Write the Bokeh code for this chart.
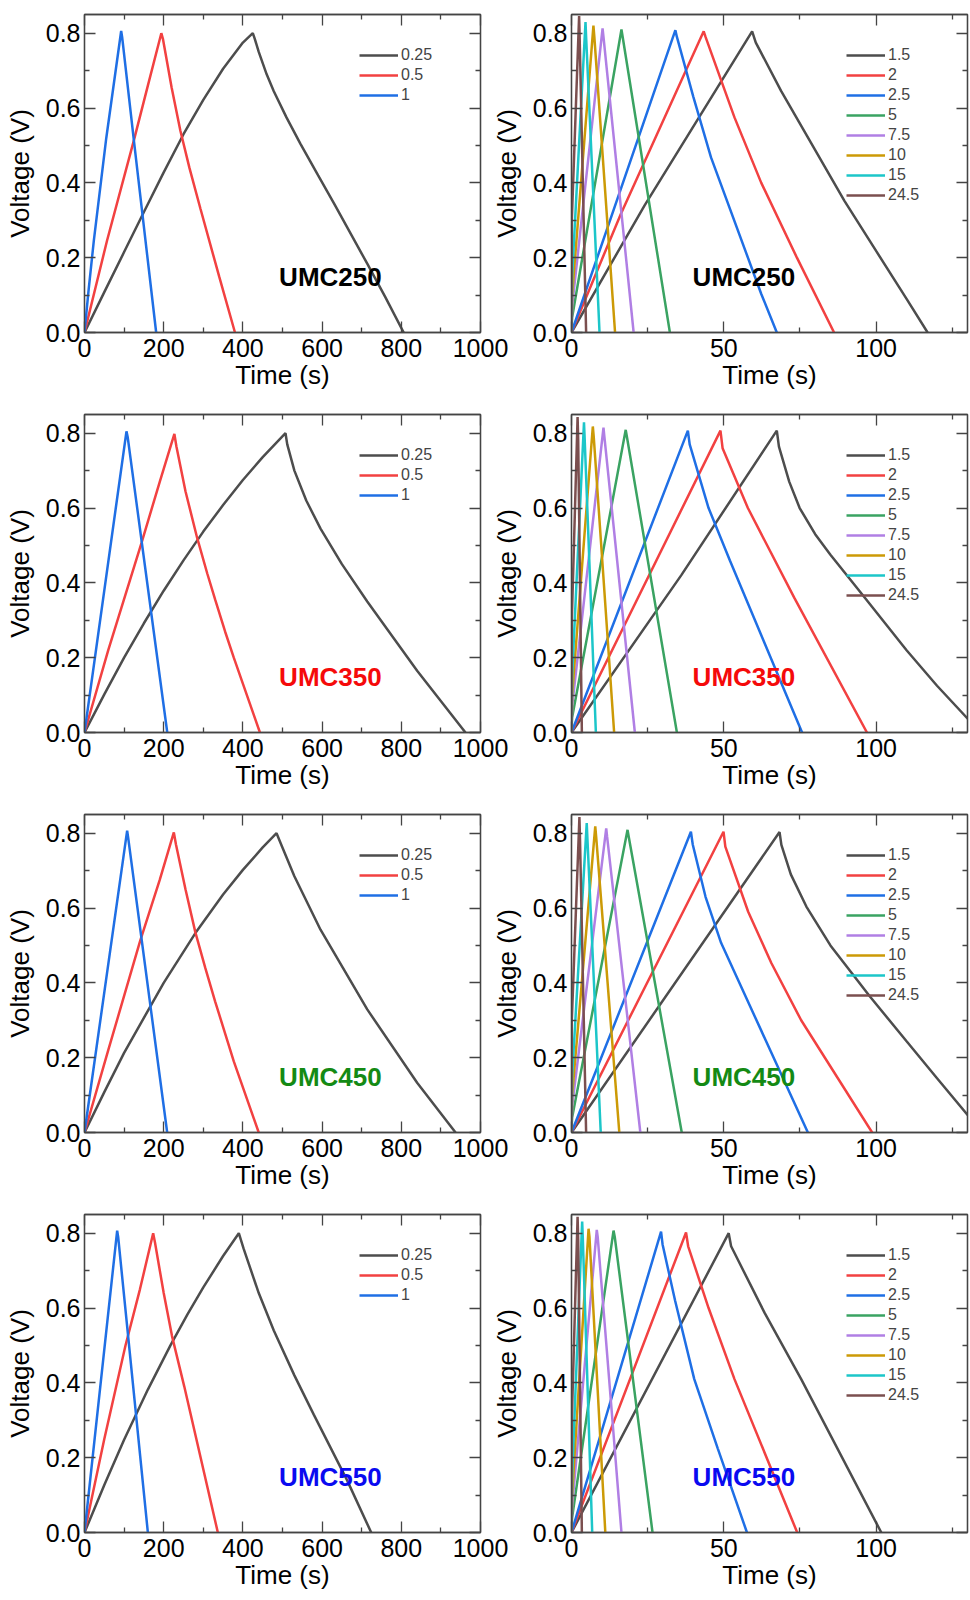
from bokeh.plotting import figure
from bokeh.models import (Range1d, FixedTicker, LinearAxis, Legend, LegendItem,
                          Label, PrintfTickFormatter)
from bokeh.layouts import gridplot
from bokeh.embed import file_html
from bokeh.resources import INLINE

# ---------------- data ----------------
SAMPLES = ["UMC250", "UMC350", "UMC450", "UMC550"]
SAMPLE_COLORS = ["#000000", "#f50a0a", "#148a14", "#0a0af0"]

RATES_LOW = ["0.25", "0.5", "1"]
RATES_HIGH = ["1.5", "2", "2.5", "5", "7.5", "10", "15", "24.5"]
COLORS_LOW = ["#4d4d4d", "#f24141", "#1f6fe5"]
COLORS_HIGH = ["#4d4d4d", "#f24141", "#1f6fe5", "#3aa362", "#b07fe4",
               "#cc9a06", "#1cc6c9", "#7b4f4f"]

X_TICKS_LOW = [0, 200, 400, 600, 800, 1000]
X_MINOR_LOW = [100, 300, 500, 700, 900]
X_TICKS_HIGH = [0, 50, 100]
X_MINOR_HIGH = [25, 75, 125]
Y_TICKS = [0.0, 0.2, 0.4, 0.6, 0.8]
Y_MINOR = [0.1, 0.3, 0.5, 0.7]

# ---- UMC250, low current densities (A/g) ----
UMC250_LOW_T = [
    [0, 50, 100, 150, 200, 250, 300, 350, 400, 425,
     430, 440, 460, 478, 510, 545, 590, 630, 714, 760, 806],
    [0, 57, 125, 160, 194, 198, 220, 242, 265, 293, 340, 380],
    [0, 10, 23.5, 55, 92.6, 95, 124.6, 181],
]
UMC250_LOW_V = [
    [0, 0.108, 0.215, 0.322, 0.428, 0.53, 0.622, 0.705, 0.775, 0.80,
     0.785, 0.75, 0.69, 0.645, 0.575, 0.505, 0.42, 0.345, 0.184, 0.094, 0],
    [0, 0.246, 0.515, 0.66, 0.80, 0.785, 0.655, 0.54, 0.44, 0.33, 0.15, 0],
    [0, 0.11, 0.245, 0.52, 0.806, 0.79, 0.514, 0],
]
# ---- UMC350 ----
UMC350_LOW_T = [
    [0, 50, 100, 150, 200, 250, 300, 350, 400, 450, 507.6,
     512, 530, 560, 596, 650, 714, 840, 962],
    [0, 60, 144, 190, 227, 232, 255, 284.5, 310, 330, 355, 377, 443],
    [0, 106, 109, 209],
]
UMC350_LOW_V = [
    [0, 0.102, 0.20, 0.292, 0.379, 0.46, 0.537, 0.608, 0.675, 0.736, 0.80,
     0.77, 0.70, 0.62, 0.545, 0.45, 0.35, 0.165, 0],
    [0, 0.22, 0.507, 0.67, 0.798, 0.765, 0.645, 0.52, 0.425, 0.355, 0.27, 0.20, 0],
    [0, 0.805, 0.79, 0],
]
# ---- UMC450 ----
UMC450_LOW_T = [
    [0, 50, 100, 200, 280, 350, 400, 450, 485, 499, 530, 596, 714, 840, 937],
    [0, 60, 140, 190, 225.6, 231, 255, 280, 305, 330, 355, 377, 440],
    [0, 107.7, 110, 208.8],
]
UMC450_LOW_V = [
    [0, 0.108, 0.213, 0.40, 0.533, 0.636, 0.702, 0.762, 0.80, 0.764, 0.685,
     0.542, 0.329, 0.133, 0],
    [0, 0.22, 0.51, 0.675, 0.802, 0.77, 0.65, 0.535, 0.44, 0.35, 0.265, 0.19, 0],
    [0, 0.807, 0.79, 0],
]
# ---- UMC550 ----
UMC550_LOW_T = [
    [0, 50, 100, 160, 217, 260, 300, 350, 389.7,
     402, 440, 478, 530, 579, 663, 724],
    [0, 50, 103.5, 140, 173.4, 178, 200, 221, 252, 336.7],
    [0, 82.5, 85, 160],
]
UMC550_LOW_V = [
    [0, 0.127, 0.248, 0.382, 0.50, 0.583, 0.655, 0.739, 0.80,
     0.758, 0.64, 0.54, 0.42, 0.315, 0.14, 0],
    [0, 0.25, 0.50, 0.65, 0.80, 0.775, 0.64, 0.525, 0.39, 0],
    [0, 0.807, 0.79, 0],
]

# ---- high current densities ----
UMC250_HIGH_T = [
    [0, 24, 59.3, 60.5, 68.8, 89.6, 100, 110, 116.9],
    [0, 16.2, 43.4, 44, 53.5, 62.3, 74, 86.2],
    [0, 34.1, 34.6, 40, 45.8, 62.3, 67.4],
    [0, 0.2, 16.4, 16.8, 32.3],
    [0, 0.2, 10.2, 10.5, 20.4],
    [0, 0.2, 7.2, 7.5, 14.3],
    [0, 0.2, 4.6, 4.8, 9.2],
    [0, 0.1, 2.5, 2.7, 4.8],
]
UMC250_HIGH_V = [
    [0, 0.34, 0.805, 0.775, 0.646, 0.352, 0.218, 0.09, 0],
    [0, 0.317, 0.805, 0.79, 0.575, 0.40, 0.20, 0],
    [0, 0.808, 0.79, 0.63, 0.468, 0.103, 0],
    [0, 0.04, 0.81, 0.79, 0],
    [0, 0.07, 0.813, 0.79, 0],
    [0, 0.10, 0.82, 0.79, 0],
    [0, 0.15, 0.83, 0.79, 0],
    [0, 0.30, 0.846, 0.78, 0],
]
UMC350_HIGH_T = [
    [0, 36, 67.4, 68.1, 71.5, 74.9, 80, 85, 96.3, 110, 120, 130.3, 133],
    [0, 48.9, 49.6, 57.9, 73.2, 97.0],
    [0, 38.2, 38.8, 45, 52, 62.3, 75.7],
    [0, 0.2, 17.8, 18.2, 34.6],
    [0, 0.2, 10.5, 10.8, 20.8],
    [0, 0.2, 7.0, 7.3, 14.0],
    [0, 0.2, 4.1, 4.3, 8.0],
    [0, 0.1, 2.0, 2.2, 3.4],
]
UMC350_HIGH_V = [
    [0, 0.42, 0.807, 0.764, 0.67, 0.60, 0.53, 0.475, 0.36, 0.22, 0.125, 0.035, 0],
    [0, 0.807, 0.76, 0.60, 0.359, 0],
    [0, 0.807, 0.77, 0.60, 0.46, 0.26, 0],
    [0, 0.04, 0.809, 0.79, 0],
    [0, 0.07, 0.815, 0.79, 0],
    [0, 0.10, 0.818, 0.79, 0],
    [0, 0.15, 0.829, 0.79, 0],
    [0, 0.30, 0.843, 0.78, 0],
]
UMC450_HIGH_T = [
    [0, 68.3, 68.9, 72, 77.1, 85, 97.9, 110, 120, 130.3, 135],
    [0, 49.9, 50.5, 58, 65.6, 75.4, 98.7],
    [0, 39.2, 39.8, 44, 49.1, 77.6],
    [0, 0.2, 18.4, 18.8, 36.2],
    [0, 0.2, 11.4, 11.7, 22.6],
    [0, 0.2, 7.8, 8.1, 15.7],
    [0, 0.2, 5.0, 5.2, 9.6],
    [0, 0.1, 2.6, 2.8, 4.8],
]
UMC450_HIGH_V = [
    [0, 0.803, 0.769, 0.69, 0.604, 0.50, 0.364, 0.244, 0.145, 0.044, 0],
    [0, 0.804, 0.764, 0.59, 0.453, 0.30, 0],
    [0, 0.804, 0.77, 0.63, 0.507, 0],
    [0, 0.04, 0.809, 0.79, 0],
    [0, 0.07, 0.813, 0.79, 0],
    [0, 0.10, 0.818, 0.79, 0],
    [0, 0.15, 0.827, 0.79, 0],
    [0, 0.30, 0.843, 0.78, 0],
]
UMC550_HIGH_T = [
    [0, 51.6, 52.4, 63.4, 75.4, 101.7],
    [0, 37.6, 38.3, 45, 53.5, 74.1],
    [0, 29.4, 29.9, 34, 40.3, 48, 57.6],
    [0, 0.2, 13.8, 14.2, 26.6],
    [0, 0.2, 8.3, 8.6, 16.4],
    [0, 0.2, 5.6, 5.9, 11.1],
    [0, 0.2, 3.5, 3.7, 6.8],
    [0, 0.1, 2.0, 2.2, 3.4],
]
UMC550_HIGH_V = [
    [0, 0.80, 0.765, 0.587, 0.41, 0],
    [0, 0.802, 0.765, 0.60, 0.41, 0],
    [0, 0.804, 0.77, 0.62, 0.41, 0.225, 0],
    [0, 0.04, 0.807, 0.79, 0],
    [0, 0.07, 0.809, 0.79, 0],
    [0, 0.10, 0.812, 0.79, 0],
    [0, 0.15, 0.831, 0.79, 0],
    [0, 0.30, 0.844, 0.78, 0],
]

LOW_T = [UMC250_LOW_T, UMC350_LOW_T, UMC450_LOW_T, UMC550_LOW_T]
LOW_V = [UMC250_LOW_V, UMC350_LOW_V, UMC450_LOW_V, UMC550_LOW_V]
HIGH_T = [UMC250_HIGH_T, UMC350_HIGH_T, UMC450_HIGH_T, UMC550_HIGH_T]
HIGH_V = [UMC250_HIGH_V, UMC350_HIGH_V, UMC450_HIGH_V, UMC550_HIGH_V]

# ---------------- style ----------------
FONT = "Liberation Sans"
AX_COL = "#444444"
ROW_H = 400
LEFT_W = 510
OVERLAP = 40
RIGHT_INNER = 970 - LEFT_W + OVERLAP      # 500 px canvas actually drawn
RIGHT_W = RIGHT_INNER + OVERLAP           # layout subtracts the overlap


def style_axis(ax, show_labels):
    ax.axis_line_color = AX_COL
    ax.axis_line_width = 1.3
    ax.major_tick_line_color = AX_COL
    ax.minor_tick_line_color = AX_COL
    ax.major_tick_line_width = 1.3
    ax.minor_tick_line_width = 1.3
    ax.major_tick_in = 11
    ax.major_tick_out = 0
    ax.minor_tick_in = 5
    ax.minor_tick_out = 0
    ax.major_label_text_font = FONT
    ax.major_label_text_color = "black"
    ax.axis_label_text_font = FONT
    ax.axis_label_text_font_style = "normal"
    ax.axis_label_text_font_size = "26px"
    ax.axis_label_text_color = "black"
    if show_labels:
        ax.major_label_text_font_size = "25px"
    else:
        ax.major_label_text_font_size = "1px"
        ax.major_label_text_color = None
        ax.major_label_standoff = 0


def make_panel(ts, vs, rates, colors, xmax, xticks, xminor, sample, scolor, is_left):
    if is_left:
        w, bl, br = LEFT_W, 84, LEFT_W - 84 - 396
        label_x = 621
        extra = {}
    else:
        w, bl, br = RIGHT_W, RIGHT_INNER - 396 - 3, 3
        label_x = 56.6
        extra = dict(margin=(0, 0, 0, -OVERLAP))
    p = figure(width=w, height=ROW_H, output_backend="svg", toolbar_location=None,
               x_range=Range1d(0, xmax), y_range=Range1d(0, 0.85),
               min_border_left=bl, min_border_right=br, min_border_top=14,
               min_border_bottom=68, background_fill_color="white",
               border_fill_color="white", border_fill_alpha=0.0,
               outline_line_color=AX_COL, outline_line_width=1.3, **extra)
    p.xgrid.visible = False
    p.ygrid.visible = False

    p.xaxis.ticker = FixedTicker(ticks=xticks, minor_ticks=xminor)
    p.yaxis.ticker = FixedTicker(ticks=Y_TICKS, minor_ticks=Y_MINOR)
    p.yaxis.formatter = PrintfTickFormatter(format="%.1f")
    p.xaxis.axis_label = "Time (s)"
    p.yaxis.axis_label = "Voltage (V)"
    style_axis(p.xaxis[0], True)
    style_axis(p.yaxis[0], True)
    p.xaxis.major_label_standoff = 6
    p.xaxis.axis_label_standoff = 0
    p.yaxis.major_label_standoff = 4
    p.yaxis.axis_label_standoff = 8

    top = LinearAxis(ticker=FixedTicker(ticks=xticks, minor_ticks=xminor))
    style_axis(top, False)
    p.add_layout(top, "above")
    right = LinearAxis(ticker=FixedTicker(ticks=Y_TICKS, minor_ticks=Y_MINOR))
    style_axis(right, False)
    p.add_layout(right, "right")

    items = []
    for t, v, lab, c in zip(ts, vs, rates, colors):
        r = p.line(t, v, line_color=c, line_width=2.5)
        items.append(LegendItem(label=lab, renderers=[r]))

    n = len(items)
    leg_h = 20 * n
    legend = Legend(items=items, location=(275, 318 - 31 - leg_h),
                    glyph_width=39, glyph_height=20, label_height=20,
                    label_standoff=3, spacing=0, padding=0, margin=0,
                    border_line_alpha=0, background_fill_alpha=0,
                    label_text_font=FONT, label_text_font_size="16px",
                    label_text_baseline="middle")
    p.add_layout(legend, "center")

    p.add_layout(Label(x=label_x, y=0.148, text=sample, text_font=FONT,
                       text_font_style="bold", text_font_size="26px",
                       text_color=scolor, text_align="center",
                       text_baseline="middle"))
    return p


rows = []
for i in range(4):
    left = make_panel(LOW_T[i], LOW_V[i], RATES_LOW, COLORS_LOW, 1000,
                      X_TICKS_LOW, X_MINOR_LOW, SAMPLES[i], SAMPLE_COLORS[i], True)
    right = make_panel(HIGH_T[i], HIGH_V[i], RATES_HIGH, COLORS_HIGH, 130,
                       X_TICKS_HIGH, X_MINOR_HIGH, SAMPLES[i], SAMPLE_COLORS[i], False)
    rows.append([left, right])

grid = gridplot(rows, toolbar_location=None)
open("out.html", "w").write(file_html(grid, INLINE))
